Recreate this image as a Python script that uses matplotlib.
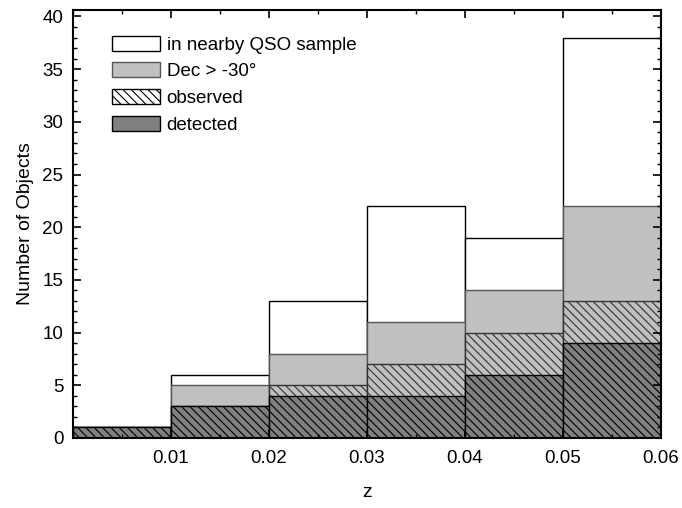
import numpy as np
import matplotlib.pyplot as plt
from matplotlib.patches import Patch
from matplotlib.ticker import MultipleLocator

plt.rcParams['font.family'] = ['Liberation Sans', 'DejaVu Sans']
plt.rcParams['hatch.linewidth'] = 0.8

# bin edges and counts per bin
bin_left = [0.00, 0.01, 0.02, 0.03, 0.04, 0.05]
n_total = [1, 6, 13, 22, 19, 38]
n_dec = [1, 5, 8, 11, 14, 22]
n_observed = [1, 3, 5, 7, 10, 13]
n_detected = [1, 3, 4, 4, 6, 9]
w = 0.01

fig = plt.figure(figsize=(6.82, 5.08), dpi=100)
ax = fig.add_axes([0.107, 0.138, 0.862, 0.842])

ax.bar(bin_left, n_total, width=w, align='edge', color='white', edgecolor='black', lw=1)
ax.bar(bin_left, n_dec, width=w, align='edge', color='#c0c0c0', edgecolor='#555555', lw=1)
ax.bar(bin_left, n_observed, width=w, align='edge', color='#c0c0c0', edgecolor='#333333', lw=1, hatch='\\\\\\\\')
ax.bar(bin_left, n_detected, width=w, align='edge', color='#808080', edgecolor='black', lw=1, hatch='\\\\\\\\')

ax.set_xlim(0, 0.06)
ax.set_ylim(0, 40.6)
ax.set_xticks([0.01, 0.02, 0.03, 0.04, 0.05, 0.06])
ax.set_xticklabels(['0.01', '0.02', '0.03', '0.04', '0.05', '0.06'])
ax.xaxis.set_minor_locator(MultipleLocator(0.005))
ax.yaxis.set_major_locator(MultipleLocator(5))
ax.yaxis.set_minor_locator(MultipleLocator(1))
ax.tick_params(which='both', direction='in', top=True, right=True, labelsize=13.5)
ax.tick_params(which='major', length=6, width=1.2)
ax.tick_params(which='minor', length=3, width=1)
ax.tick_params(axis='x', pad=9)
ax.tick_params(axis='y', pad=7)
for s in ax.spines.values():
    s.set_linewidth(1.5)

ax.set_xlabel('z', fontsize=14, labelpad=12)
ax.set_ylabel('Number of Objects', fontsize=14, labelpad=6)

handles = [
    Patch(facecolor='white', edgecolor='black', label='in nearby QSO sample'),
    Patch(facecolor='#c0c0c0', edgecolor='#555555', label='Dec > -30°'),
    Patch(facecolor='white', edgecolor='black', hatch='\\\\\\\\', label='observed'),
    Patch(facecolor='#808080', edgecolor='black', label='detected'),
]
ax.legend(handles=handles, loc='upper left', bbox_to_anchor=(0.038, 0.98), frameon=False,
          fontsize=13.5, handlelength=2.55, handleheight=0.85, handletextpad=0.35, labelspacing=0.47)

fig.savefig('out.png', dpi=100)
